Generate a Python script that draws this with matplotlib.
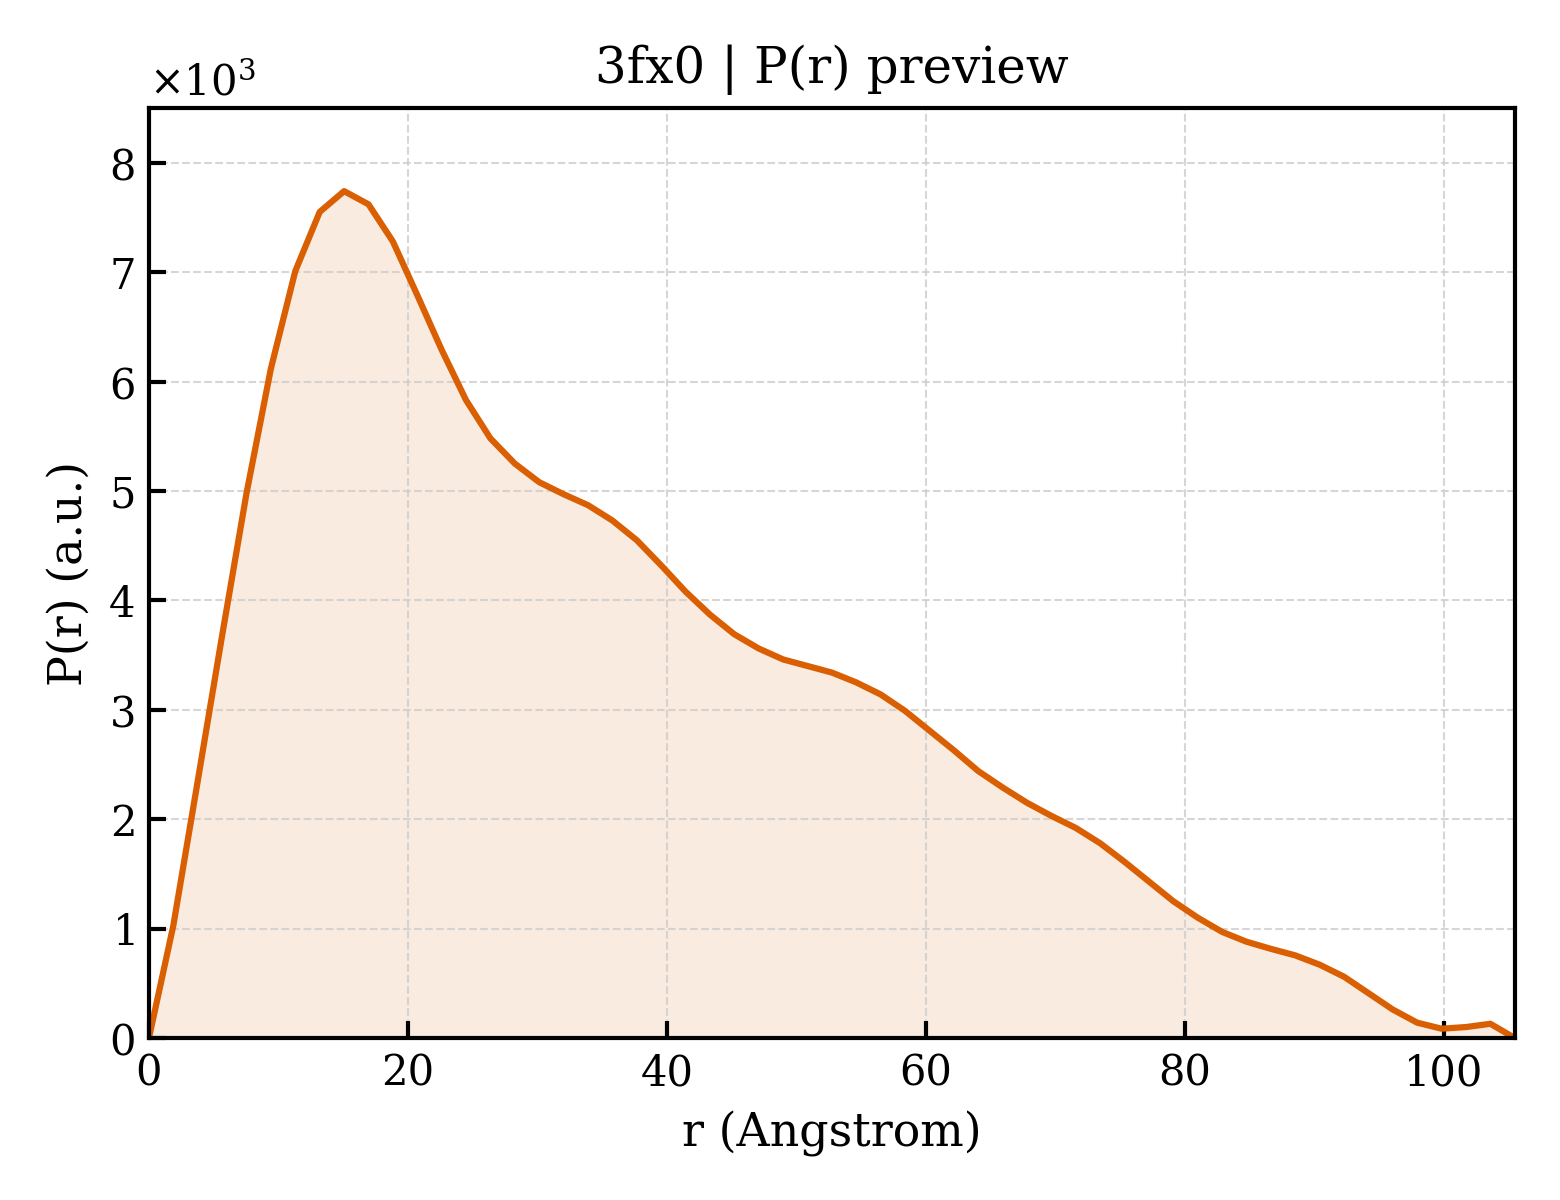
import numpy as np
import matplotlib.pyplot as plt
from matplotlib.ticker import ScalarFormatter

# P(r) curve (r in Angstrom, P in units of 1e3)
r_max = 105.5
p_r = [0.0, 1.03, 2.35, 3.68, 4.98, 6.12, 7.01, 7.55, 7.74, 7.62,
       7.28, 6.79, 6.29, 5.83, 5.48, 5.25, 5.08, 4.97, 4.87, 4.73,
       4.55, 4.32, 4.08, 3.87, 3.69, 3.56, 3.46, 3.40, 3.34, 3.25,
       3.14, 2.99, 2.81, 2.63, 2.44, 2.29, 2.15, 2.03, 1.92, 1.78,
       1.61, 1.43, 1.25, 1.10, 0.97, 0.88, 0.815, 0.755, 0.67, 0.56,
       0.41, 0.26, 0.14, 0.085, 0.10, 0.13, 0.0]

p = np.array(p_r) * 1e3
r = np.linspace(0.0, r_max, len(p))

plt.rcParams['font.family'] = 'DejaVu Serif'
plt.rcParams['mathtext.fontset'] = 'dejavuserif'

color = '#d95f02'

fig = plt.figure(figsize=(5.2, 4.0), dpi=300)
ax = fig.add_axes([0.0955, 0.135, 0.8755, 0.775])

ax.fill_between(r, p, 0, color=color, alpha=0.12, linewidth=0)
ax.plot(r, p, color=color, lw=1.5)

ax.set_xlim(0, r_max)
ax.set_ylim(0, 8500)
ax.set_xticks([0, 20, 40, 60, 80, 100])
ax.set_yticks(np.arange(0, 8001, 1000))

fmt = ScalarFormatter(useMathText=True)
fmt.set_powerlimits((3, 3))
ax.yaxis.set_major_formatter(fmt)

ax.grid(True, ls='--', lw=0.5, color='#cccccc', alpha=0.8)
ax.tick_params(direction='in', length=4, width=1.0, labelsize=10)
for s in ax.spines.values():
    s.set_linewidth(1.0)

ax.set_title('3fx0 | P(r) preview', fontsize=12)
ax.set_xlabel('r (Angstrom)', fontsize=11)
ax.set_ylabel('P(r) (a.u.)', fontsize=11)

fig.savefig('out.png', dpi=300)
